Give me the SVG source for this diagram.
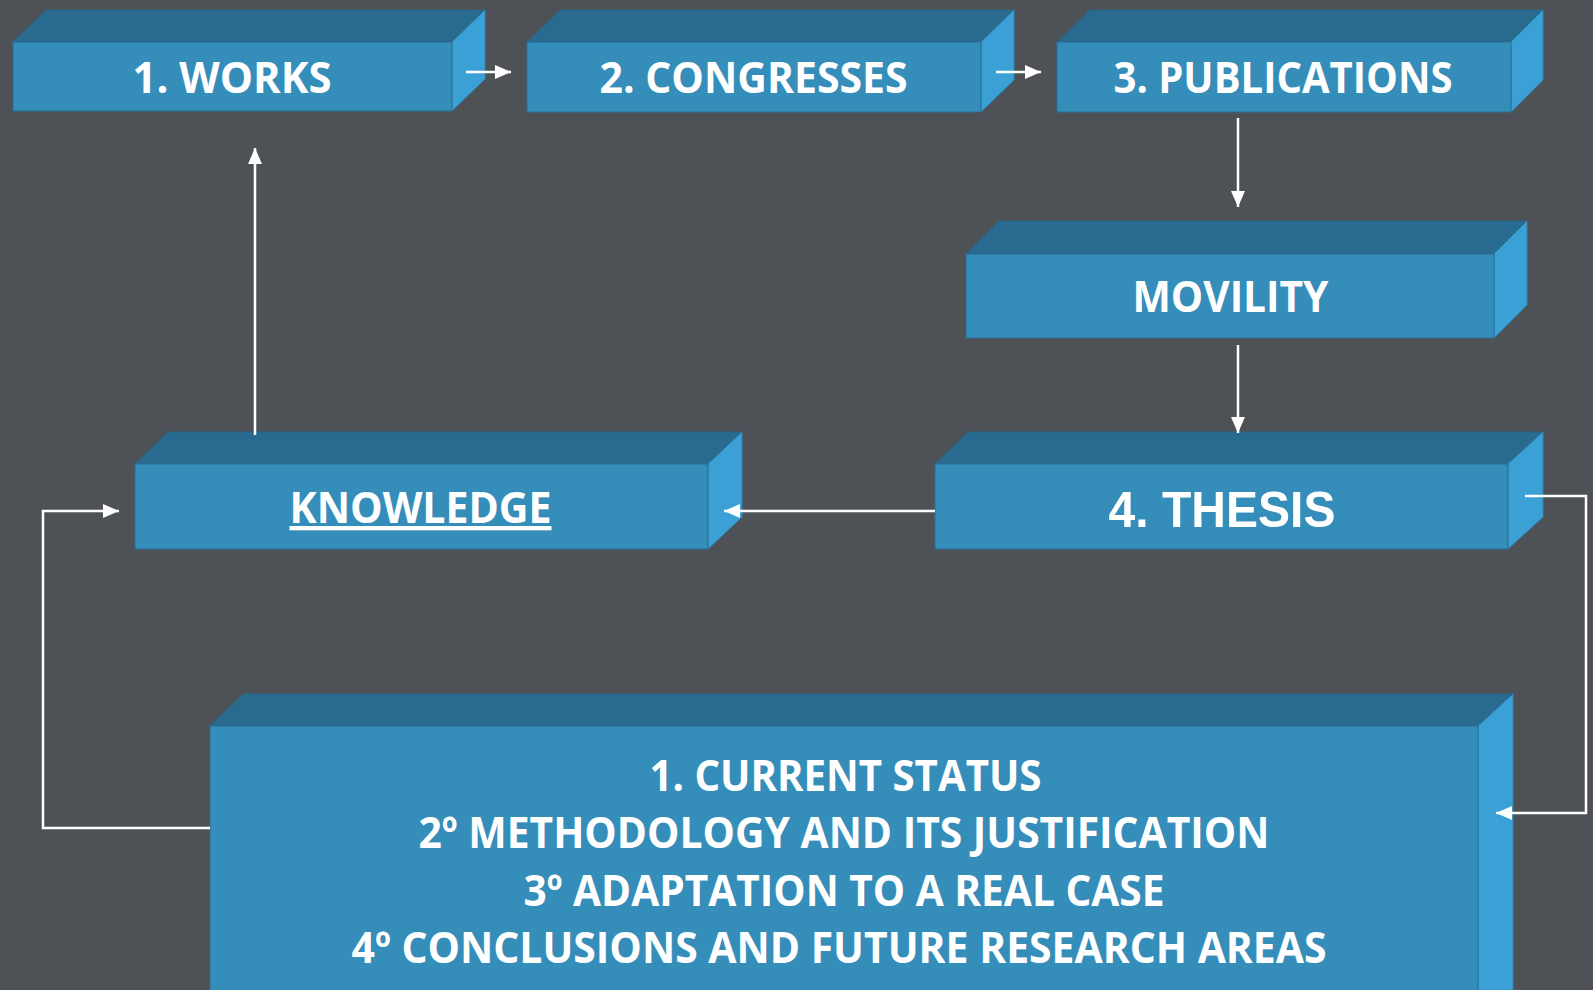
<svg xmlns="http://www.w3.org/2000/svg" width="1593" height="990" viewBox="0 0 1593 990">
<defs>
<style>
.front{fill:#358DBA;stroke:#2B6E93;stroke-width:1}
.top{fill:#286B8E;stroke:#2A6689;stroke-width:1}
.side{fill:#3AA0D6;stroke:#2F86B4;stroke-width:1}
.lbl{font-family:"Open Sans","Noto Sans","Liberation Sans",sans-serif;font-weight:700;font-size:43px;fill:#FFFFFF;text-anchor:middle}
.lbl2{font-family:"Liberation Sans",Arial,sans-serif;font-weight:700;font-size:50px;fill:#FFFFFF;text-anchor:middle}
.conn{fill:none;stroke:#FFFFFF;stroke-width:2.5}
</style>
<marker id="ah" viewBox="0 0 16 14" refX="16" refY="7" markerWidth="16" markerHeight="14" markerUnits="userSpaceOnUse" orient="auto">
<path d="M0,0 L16,7 L0,14 z" fill="#FFFFFF"/>
</marker>
</defs>
<rect x="0" y="0" width="1593" height="990" fill="#4E5257"/>

<g id="works">
<polygon class="top" points="13,42 46,10 485,10 452,42"/>
<polygon class="side" points="452,42 485,10 485,79 452,111"/>
<rect class="front" x="13" y="42" width="439" height="69"/>
<text class="lbl" x="232" y="93" textLength="199" lengthAdjust="spacingAndGlyphs">1. WORKS</text>
</g>

<g id="congresses">
<polygon class="top" points="527,42 560,10 1014,10 981,42"/>
<polygon class="side" points="981,42 1014,10 1014,80 981,112"/>
<rect class="front" x="527" y="42" width="454" height="70"/>
<text class="lbl" x="753.5" y="93" textLength="308" lengthAdjust="spacingAndGlyphs">2. CONGRESSES</text>
</g>

<g id="publications">
<polygon class="top" points="1057,42 1090,10 1543,10 1511,42"/>
<polygon class="side" points="1511,42 1543,10 1543,80 1511,112"/>
<rect class="front" x="1057" y="42" width="454" height="70"/>
<text class="lbl" x="1283" y="93" textLength="339" lengthAdjust="spacingAndGlyphs">3. PUBLICATIONS</text>
</g>

<g id="movility">
<polygon class="top" points="966,254 999,221 1527,221 1494,254"/>
<polygon class="side" points="1494,254 1527,221 1527,305 1494,338"/>
<rect class="front" x="966" y="254" width="528" height="84"/>
<text class="lbl" x="1230.5" y="312" textLength="196" lengthAdjust="spacingAndGlyphs">MOVILITY</text>
</g>

<g id="thesis">
<polygon class="top" points="935,464 968,432 1543,432 1508,464"/>
<polygon class="side" points="1508,464 1543,432 1543,517 1508,549"/>
<rect class="front" x="935" y="464" width="573" height="85"/>
<text class="lbl2" x="1222" y="527" textLength="227" lengthAdjust="spacingAndGlyphs">4. THESIS</text>
</g>

<g id="knowledge">
<polygon class="top" points="135,464 168,432 742,432 708,464"/>
<polygon class="side" points="708,464 742,432 742,517 708,549"/>
<rect class="front" x="135" y="464" width="573" height="85"/>
<text class="lbl" x="420.5" y="523" textLength="262" lengthAdjust="spacingAndGlyphs" text-decoration="underline">KNOWLEDGE</text>
</g>

<g id="research">
<polygon class="top" points="210,726 243,694 1513,694 1478,726"/>
<polygon class="side" points="1478,726 1513,694 1513,995 1478,995"/>
<rect class="front" x="210" y="726" width="1268" height="270"/>
<text class="lbl" x="845.5" y="791" textLength="392" lengthAdjust="spacingAndGlyphs">1. CURRENT STATUS</text>
<text class="lbl" x="844" y="848" textLength="851" lengthAdjust="spacingAndGlyphs">2º METHODOLOGY AND ITS JUSTIFICATION</text>
<text class="lbl" x="844" y="906" textLength="641" lengthAdjust="spacingAndGlyphs">3º ADAPTATION TO A REAL CASE</text>
<text class="lbl" x="839" y="963" textLength="975" lengthAdjust="spacingAndGlyphs">4º CONCLUSIONS AND FUTURE RESEARCH AREAS</text>
</g>

<g id="connectors">
<path class="conn" d="M466,72 H511" marker-end="url(#ah)"/>
<path class="conn" d="M996,72 H1041" marker-end="url(#ah)"/>
<path class="conn" d="M1238,118 V207" marker-end="url(#ah)"/>
<path class="conn" d="M1238,345 V433" marker-end="url(#ah)"/>
<path class="conn" d="M935,511 H724" marker-end="url(#ah)"/>
<path class="conn" d="M255,435 V148" marker-end="url(#ah)"/>
<path class="conn" d="M1525,496 H1586 V813 H1496" marker-end="url(#ah)"/>
<path class="conn" d="M210,828 H43 V511 H119" marker-end="url(#ah)"/>
</g>
</svg>
